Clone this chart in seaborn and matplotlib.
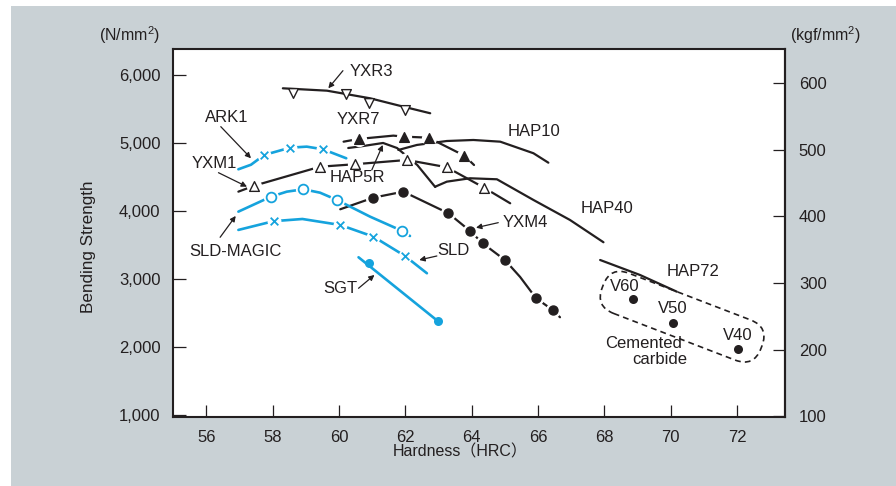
import matplotlib.pyplot as plt
import matplotlib.transforms as mtransforms
from matplotlib.patches import FancyBboxPatch, Rectangle
import seaborn as sns

# Hardness (HRC) vs bending strength (N/mm2)
yxr3_hrc = [58.31, 59.64, 60.94, 61.94, 62.75]
yxr3_n = [5804, 5769, 5657, 5534, 5437]
yxr3_mk_hrc = [58.61, 60.22, 60.90, 62.00]
yxr3_mk_n = [5740, 5721, 5593, 5485]

yxr7_hrc = [60.14, 60.59, 61.64, 61.96, 62.70, 63.78, 64.07]
yxr7_n = [5019, 5059, 5108, 5093, 5078, 4813, 4676]
yxr7_mk_hrc = [60.59, 61.96, 62.70, 63.78]
yxr7_mk_n = [5059, 5093, 5078, 4813]

yxm1_hrc = [56.97, 57.45, 59.43, 60.47, 62.05, 63.25, 64.37, 65.16]
yxm1_n = [4284, 4372, 4651, 4687, 4750, 4643, 4343, 4113]
yxm1_mk_hrc = [57.45, 59.43, 60.47, 62.05, 63.25, 64.37]
yxm1_mk_n = [4372, 4651, 4687, 4750, 4643, 4343]

ark1_hrc = [56.97, 57.35, 57.75, 58.53, 59.03, 59.52, 60.22]
ark1_n = [4613, 4680, 4824, 4931, 4946, 4907, 4775]
ark1_mk_hrc = [57.75, 58.53, 59.52]
ark1_mk_n = [4824, 4931, 4907]

magic_hrc = [56.97, 57.95, 58.43, 58.93, 59.43, 59.94, 60.94, 61.89, 62.14]
magic_n = [3990, 4210, 4284, 4319, 4269, 4162, 3916, 3710, 3632]
magic_mk_hrc = [57.95, 58.93, 59.94, 61.89]
magic_mk_n = [4210, 4319, 4162, 3710]

sld_hrc = [56.97, 58.03, 58.90, 60.04, 61.04, 61.99, 62.65]
sld_n = [3721, 3850, 3882, 3794, 3622, 3338, 3084]
sld_mk_hrc = [58.03, 60.04, 61.04, 61.99]
sld_mk_n = [3850, 3794, 3622, 3338]

sgt_hrc = [60.59, 63.05]
sgt_n = [3319, 2353]
sgt_mk_hrc = [60.92, 62.98]
sgt_mk_n = [3240, 2387]

yxm4_hrc = [60.04, 61.04, 61.94, 63.30, 63.95, 64.33, 65.00, 65.46, 65.94, 66.44, 66.66]
yxm4_n = [4025, 4196, 4284, 3966, 3706, 3525, 3279, 3029, 2716, 2544, 2437]
yxm4_mk_hrc = [61.04, 61.94, 63.30, 63.95, 64.33, 65.00, 65.94, 66.44]
yxm4_mk_n = [4196, 4284, 3966, 3706, 3525, 3279, 2716, 2544]

hap5r_hrc = [60.28, 60.74, 61.33, 61.75, 62.36, 62.90]
hap5r_n = [4926, 4956, 5000, 4926, 4676, 4353]

hap10_hrc = [61.79, 62.35, 63.25, 64.05, 64.86, 65.86, 66.31]
hap10_n = [4897, 4971, 5029, 5044, 5019, 4849, 4710]

hap40_hrc = [62.90, 63.25, 63.95, 64.76, 65.86, 66.96, 67.97]
hap40_n = [4357, 4431, 4481, 4466, 4162, 3868, 3540]

hap72_hrc = [67.87, 69.07, 70.18]
hap72_n = [3279, 3059, 2813]

carbide_names = ["V60", "V50", "V40"]
carbide_hrc = [68.87, 70.08, 72.03]
carbide_n = [2706, 2357, 1971]

x_ticks = [56, 58, 60, 62, 64, 66, 68, 70, 72]
y_ticks = [1000, 2000, 3000, 4000, 5000, 6000]
kgf_ticks = [100, 200, 300, 400, 500, 600]

BLACK = '#231F20'
BLUE = '#15A3DD'
GREY = '#C9D1D5'

sns.set_theme(style="ticks")
plt.rcParams['font.family'] = ['Liberation Sans', 'Noto Sans CJK JP', 'DejaVu Sans']
plt.rcParams['mathtext.fontset'] = 'custom'
plt.rcParams['mathtext.rm'] = 'Liberation Sans'
plt.rcParams['mathtext.default'] = 'rm'
plt.rcParams['text.color'] = BLACK
plt.rcParams['xtick.direction'] = 'in'
plt.rcParams['ytick.direction'] = 'in'

W, H = 896, 486
fig = plt.figure(figsize=(W / 100, H / 100), dpi=100, facecolor='white')
fig.patches.append(Rectangle((11 / W, 0), 1, 1 - 6 / H, transform=fig.transFigure,
                             facecolor=GREY, edgecolor='none', zorder=-10))
ax = fig.add_axes([173 / W, 1 - 417 / H, 612 / W, 368 / H])
ax.set_zorder(1)
ax.set_facecolor('white')


def line(x, y, color, lw):
    sns.lineplot(x=x, y=y, color=color, linewidth=lw, ax=ax, estimator=None,
                 sort=False, legend=False, zorder=2)


def marks(x, y, marker, size, face, edge, lw=1.0, halo=10):
    # white halo breaks the line around each marker, as in the original
    if halo:
        sns.scatterplot(x=x, y=y, marker='o', s=halo ** 2, color='white',
                        linewidth=0, ax=ax, legend=False, zorder=3)
    if marker == 'x':
        sns.scatterplot(x=x, y=y, marker='x', s=size ** 2, color=edge,
                        linewidth=lw, ax=ax, legend=False, zorder=4)
    else:
        sns.scatterplot(x=x, y=y, marker=marker, s=size ** 2, color=face,
                        edgecolor=edge, linewidth=lw, ax=ax, legend=False, zorder=4)


# black steels
line(yxr3_hrc, yxr3_n, BLACK, 1.6)
line(yxr7_hrc, yxr7_n, BLACK, 1.6)
line(yxm1_hrc, yxm1_n, BLACK, 1.6)
line(yxm4_hrc, yxm4_n, BLACK, 1.6)
line(hap5r_hrc, hap5r_n, BLACK, 1.6)
line(hap10_hrc, hap10_n, BLACK, 1.6)
line(hap40_hrc, hap40_n, BLACK, 1.6)
line(hap72_hrc, hap72_n, BLACK, 1.6)
# blue steels
line(ark1_hrc, ark1_n, BLUE, 1.9)
line(magic_hrc, magic_n, BLUE, 1.9)
line(sld_hrc, sld_n, BLUE, 1.9)
line(sgt_hrc, sgt_n, BLUE, 1.9)

marks(yxr3_mk_hrc, yxr3_mk_n, 'v', 7, 'white', BLACK, halo=0)
marks(yxr7_mk_hrc, yxr7_mk_n, '^', 7, BLACK, BLACK, halo=11)
marks(yxm1_mk_hrc, yxm1_mk_n, '^', 7, 'white', BLACK, halo=11)
marks(yxm4_mk_hrc, yxm4_mk_n, 'o', 6.5, BLACK, BLACK, halo=11)
marks(ark1_mk_hrc, ark1_mk_n, 'x', 5.5, BLUE, BLUE, lw=1.3, halo=10)
marks(magic_mk_hrc, magic_mk_n, 'o', 7, 'white', BLUE, lw=1.3, halo=11)
marks(sld_mk_hrc, sld_mk_n, 'x', 5.5, BLUE, BLUE, lw=1.3, halo=10)
sns.scatterplot(x=sgt_mk_hrc, y=sgt_mk_n, marker='o', s=6.5 ** 2, color=BLUE,
                linewidth=0, ax=ax, legend=False, zorder=4)
sns.scatterplot(x=carbide_hrc, y=carbide_n, marker='o', s=6.5 ** 2, color=BLACK,
                linewidth=0, ax=ax, legend=False, zorder=4)

# dashed rounded loop around cemented carbide (size in inches, centre in data)
loop_center = (70.34, 2445)
loop = FancyBboxPatch((-0.85, -0.215), 1.70, 0.43,
                      boxstyle="round,pad=0,rounding_size=0.2", fill=False,
                      edgecolor=BLACK, linewidth=1.2, linestyle=(0, (3.5, 2.5)),
                      transform=mtransforms.Affine2D().rotate_deg(-21)
                      + fig.dpi_scale_trans
                      + mtransforms.ScaledTranslation(*loop_center, ax.transData))
ax.add_patch(loop)

# labels with arrows: (text, text pos, arrow tail, arrow head)
arrow_labels = [
    ("YXR3", (60.99, 6049), (60.12, 6063), (59.68, 5804)),
    ("HAP5R", (60.55, 4485), (60.99, 4603), (61.32, 4971)),
    ("ARK1", (56.62, 5375), (56.44, 5240), (57.35, 4775)),
    ("YXM1", (56.24, 4691), (56.37, 4563), (57.23, 4357)),
    ("SLD-MAGIC", (56.87, 3397), (56.42, 3613), (56.89, 3927)),
    ("SLD", (63.44, 3412), (62.95, 3338), (62.42, 3279)),
    ("SGT", (60.04, 2853), (60.59, 2863), (61.07, 3059)),
    ("YXM4", (65.62, 3824), (64.80, 3828), (64.13, 3754)),
]
for txt, pos, tail, head in arrow_labels:
    ax.text(*pos, txt, ha='center', va='center', fontsize=12, color=BLACK, zorder=6)
    ax.annotate("", xy=head, xytext=tail,
                arrowprops=dict(arrowstyle='-|>', color=BLACK, lw=0.9,
                                mutation_scale=8, shrinkA=0, shrinkB=0), zorder=6)

plain_labels = [
    ("YXR7", (60.59, 5338)),
    ("HAP10", (65.88, 5166)),
    ("HAP40", (68.08, 4029)),
    ("HAP72", (70.66, 3107)),
    ("V60", (68.62, 2887)),
    ("V50", (70.06, 2559)),
    ("V40", (72.01, 2162)),
    ("Cemented", (69.17, 2054)),
    ("carbide", (69.67, 1809)),
]
for txt, pos in plain_labels:
    ax.text(*pos, txt, ha='center', va='center', fontsize=12, color=BLACK, zorder=6)

# axes
ax.set_xlim(55.0, 73.44)
ax.set_ylim(970, 6382)
ax.set_xticks(x_ticks, labels=[str(v) for v in x_ticks])
ax.set_yticks(y_ticks, labels=[f"{v:,}" for v in y_ticks])
ax.set_xlabel("")
ax.set_ylabel("")
for sp in ax.spines.values():
    sp.set_visible(True)
    sp.set_linewidth(1.5)
    sp.set_color(BLACK)

sec = ax.secondary_yaxis('right', functions=(lambda n: n / 9.80665, lambda k: k * 9.80665))
sec.set_yticks(kgf_ticks, labels=[str(v) for v in kgf_ticks])
sec.tick_params(direction='in', length=9, width=0.9, color=BLACK, labelsize=12,
                labelcolor=BLACK, pad=10)
sec.spines['right'].set_linewidth(1.5)
sec.spines['right'].set_color(BLACK)

ax.tick_params(axis='x', which='major', direction='in', length=9, width=0.9,
               color=BLACK, labelsize=12, labelcolor=BLACK, pad=9,
               bottom=True, top=False)
ax.tick_params(axis='y', which='major', direction='in', length=9, width=0.9,
               color=BLACK, labelsize=12, labelcolor=BLACK, pad=9,
               left=True, right=False)

fig.text(130 / W, 1 - 35 / H, "(N/mm$^2$)", ha='center', va='center', fontsize=11.5)
fig.text(825 / W, 1 - 35 / H, "(kgf/mm$^2$)", ha='center', va='center', fontsize=11.5)
fig.text(89 / W, 1 - 247 / H, "Bending Strength", ha='center', va='center',
         rotation=90, fontsize=12.3)
fig.text(460 / W, 1 - 452 / H, "Hardness（HRC）", ha='center', va='center', fontsize=11.5)

fig.savefig("out.png", dpi=100, facecolor='white')
